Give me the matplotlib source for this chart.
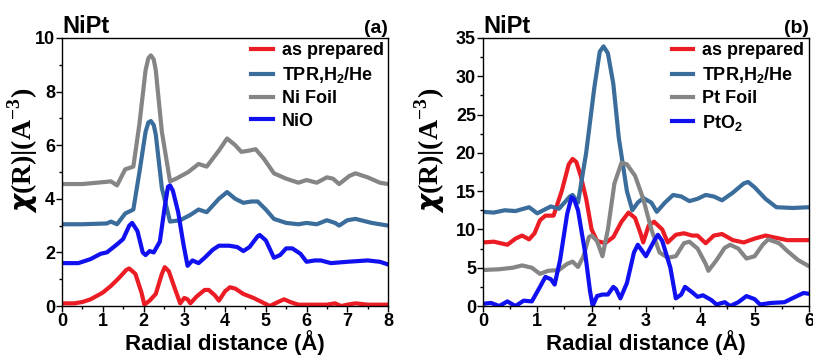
import matplotlib
matplotlib.use("Agg")
import matplotlib.pyplot as plt
from matplotlib.ticker import MultipleLocator

plt.rcParams['font.family'] = ['Liberation Sans', 'DejaVu Sans']
plt.rcParams['font.weight'] = 'bold'
plt.rcParams['mathtext.fontset'] = 'custom'
plt.rcParams['mathtext.rm'] = 'Liberation Serif'
plt.rcParams['mathtext.bf'] = 'Liberation Serif:bold'
plt.rcParams['mathtext.sf'] = 'Liberation Sans:bold'

# panel (a) Ni edge
a_prep_x = [0, 0.3, 0.5, 0.7, 1.0, 1.2, 1.4, 1.58, 1.65, 1.8, 1.95, 2.02, 2.15, 2.3, 2.45, 2.52, 2.62, 2.78, 2.9,
            3.0, 3.08, 3.15, 3.3, 3.5, 3.6, 3.75, 3.85, 4.0, 4.12, 4.25, 4.45, 4.7, 4.9, 5.1, 5.3, 5.45, 5.6,
            5.8, 6.0, 6.5, 6.7, 6.85, 7.0, 7.2, 7.5, 8.0]
a_prep_y = [0.1, 0.1, 0.15, 0.25, 0.5, 0.75, 1.05, 1.35, 1.4, 1.2, 0.5, 0.05, 0.2, 0.45, 1.2, 1.45, 1.3, 0.6, 0.1,
            0.3, 0.25, 0.1, 0.35, 0.6, 0.6, 0.4, 0.2, 0.55, 0.7, 0.65, 0.45, 0.3, 0.15, 0.0, 0.15, 0.25, 0.15,
            0.05, 0.05, 0.05, 0.1, 0.0, 0.05, 0.1, 0.05, 0.05]

a_tpr_x = [0, 0.5, 1.1, 1.2, 1.35, 1.55, 1.75, 1.9, 2.05, 2.12, 2.18, 2.25, 2.3, 2.45, 2.65, 2.9, 3.15, 3.35, 3.55, 3.85,
           4.05, 4.25, 4.45, 4.65, 4.8, 5.0, 5.2, 5.5, 5.8, 6.0, 6.25, 6.5, 6.7, 6.8, 7.0, 7.2, 7.6, 8.0]
a_tpr_y = [3.05, 3.05, 3.08, 3.15, 3.05, 3.45, 3.6, 5.0, 6.5, 6.85, 6.9, 6.75, 6.4, 4.4, 3.15, 3.2, 3.4, 3.6, 3.5, 4.0,
           4.25, 4.0, 3.85, 3.9, 3.9, 3.6, 3.25, 3.1, 3.05, 3.1, 3.05, 3.2, 3.1, 3.0, 3.2, 3.25, 3.1, 3.0]

a_foil_x = [0, 0.5, 1.0, 1.2, 1.35, 1.55, 1.75, 1.9, 2.05, 2.12, 2.18, 2.25, 2.3, 2.45, 2.65, 2.8, 3.1, 3.35, 3.55, 3.85,
            4.05, 4.25, 4.4, 4.6, 4.75, 4.95, 5.2, 5.5, 5.8, 6.0, 6.25, 6.5, 6.65, 6.8, 7.05, 7.2, 7.5, 7.8, 8.0]
a_foil_y = [4.55, 4.55, 4.62, 4.65, 4.5, 5.1, 5.2, 6.8, 8.8, 9.25, 9.35, 9.2, 8.8, 6.5, 4.65, 4.75, 5.0, 5.3, 5.2, 5.8,
            6.25, 6.0, 5.75, 5.8, 5.85, 5.5, 4.95, 4.75, 4.6, 4.7, 4.6, 4.8, 4.75, 4.55, 4.85, 4.95, 4.8, 4.6, 4.55]

a_nio_x = [0, 0.4, 0.5, 0.7, 0.95, 1.1, 1.35, 1.5, 1.65, 1.72, 1.85, 1.98, 2.05, 2.15, 2.25, 2.4, 2.52, 2.6, 2.65,
           2.72, 2.85, 2.98, 3.08, 3.2, 3.35, 3.5, 3.7, 3.85, 4.1, 4.3, 4.45, 4.6, 4.8, 4.85, 5.0, 5.2, 5.35,
           5.5, 5.65, 5.85, 6.0, 6.2, 6.35, 6.6, 7.0, 7.5, 7.8, 8.0]
a_nio_y = [1.6, 1.6, 1.65, 1.75, 1.95, 2.0, 2.3, 2.5, 3.0, 3.1, 2.8, 2.0, 1.9, 2.05, 2.0, 2.4, 3.7, 4.45, 4.5,
           4.3, 3.5, 2.3, 1.5, 1.7, 1.6, 1.8, 2.1, 2.25, 2.25, 2.2, 2.05, 2.2, 2.6, 2.65, 2.45, 1.8, 1.9,
           2.15, 2.15, 1.95, 1.65, 1.7, 1.7, 1.6, 1.65, 1.7, 1.65, 1.55]

# panel (b) Pt edge
b_prep_x = [0, 0.2, 0.45, 0.6, 0.72, 0.85, 0.95, 1.05, 1.15, 1.3, 1.45, 1.58, 1.65, 1.72, 1.8, 1.9, 2.0, 2.1, 2.25,
            2.4, 2.55, 2.68, 2.8, 2.9, 2.95, 3.05, 3.15, 3.3, 3.4, 3.55, 3.7, 3.85, 3.95, 4.1, 4.25, 4.4, 4.6,
            4.8, 5.0, 5.2, 5.4, 5.6, 6.0]
b_prep_y = [8.3, 8.4, 8.0, 8.8, 9.2, 8.7, 9.5, 11.2, 11.8, 11.8, 15.0, 18.5, 19.2, 18.8, 17.0, 14.0, 10.0, 8.5, 8.2,
            9.0, 11.0, 12.2, 11.5, 9.5, 8.3, 10.5, 11.0, 10.0, 8.3, 9.3, 9.5, 9.2, 9.2, 8.2, 9.2, 9.4, 8.6,
            8.3, 8.8, 9.2, 8.9, 8.6, 8.6]

b_tpr_x = [0, 0.2, 0.4, 0.6, 0.85, 1.0, 1.25, 1.4, 1.6, 1.65, 1.75, 1.9, 2.05, 2.15, 2.22, 2.3, 2.4, 2.5, 2.65, 2.75,
           2.85, 2.95, 3.1, 3.2, 3.35, 3.5, 3.65, 3.8, 3.95, 4.1, 4.25, 4.4, 4.6, 4.8, 4.88, 5.0, 5.2, 5.4,
           5.7, 6.0]
b_tpr_y = [12.3, 12.2, 12.5, 12.4, 12.9, 12.1, 13.0, 12.7, 14.3, 14.5, 13.5, 20.0, 28.5, 33.2, 33.9, 33.0, 29.0, 22.0, 15.0, 12.5,
           13.5, 14.1, 13.5, 12.3, 13.5, 14.5, 14.3, 13.7, 14.0, 14.5, 14.3, 13.8, 14.8, 16.0, 16.2, 15.5, 14.0, 12.9,
           12.8, 12.9]

b_foil_x = [0, 0.3, 0.55, 0.72, 0.9, 1.05, 1.2, 1.4, 1.55, 1.65, 1.75, 1.85, 1.95, 2.0, 2.1, 2.2, 2.3, 2.42,
            2.55, 2.65, 2.8, 2.95, 3.1, 3.25, 3.4, 3.55, 3.7, 3.8, 3.95, 4.1, 4.15, 4.3, 4.45, 4.55, 4.7, 4.85,
            5.0, 5.15, 5.25, 5.45, 5.6, 5.8, 6.0]
b_foil_y = [4.7, 4.8, 5.0, 5.3, 5.0, 4.2, 4.6, 4.7, 5.5, 5.8, 5.1, 6.5, 9.0, 9.2, 8.5, 6.5, 10.0, 16.0,
            18.7, 18.5, 17.0, 14.0, 10.0, 7.0, 6.3, 6.5, 8.2, 8.4, 7.5, 5.5, 4.6, 6.0, 7.6, 8.0, 7.5, 6.2,
            6.5, 8.0, 8.7, 8.2, 7.2, 6.0, 5.2]

b_oxide_x = [0, 0.15, 0.3, 0.45, 0.6, 0.75, 0.9, 1.05, 1.15, 1.25, 1.32, 1.42, 1.55, 1.63, 1.68, 1.75, 1.88, 1.97,
             2.02, 2.1, 2.2, 2.3, 2.4, 2.45, 2.53, 2.65, 2.78, 2.85, 2.95, 3.0, 3.15, 3.22, 3.3, 3.45, 3.55,
             3.65, 3.72, 3.85, 3.95, 4.05, 4.2, 4.3, 4.45, 4.55, 4.7, 4.85, 5.0, 5.1, 5.3, 5.55, 5.75, 5.9, 6.0]
b_oxide_y = [0.3, 0.4, 0.0, 0.6, 0.0, 0.7, 0.6, 2.5, 3.8, 3.5, 2.8, 6.0, 12.0, 14.2, 13.9, 12.5, 7.0, 2.0,
             0.0, 1.3, 1.5, 1.5, 2.5, 2.2, 1.0, 3.0, 7.0, 8.0, 7.0, 6.5, 8.5, 9.3, 8.5, 5.0, 1.0,
             1.5, 2.5, 1.8, 1.2, 1.4, 0.8, 0.2, 0.5, 0.0, 0.5, 1.3, 0.9, 0.2, 0.4, 0.5, 1.2, 1.7, 1.6]

c_red = '#ec1c24'
c_steel = '#3a6d9c'
c_gray = '#858585'
c_blue = '#1010f0'

fig = plt.figure(figsize=(8.13, 3.56), dpi=100)
ax1 = fig.add_axes([0.0763, 0.1404, 0.401, 0.753])
ax2 = fig.add_axes([0.594, 0.1404, 0.401, 0.753])

ax1.plot(a_prep_x, a_prep_y, color=c_red, lw=3, label='as prepared')
ax1.plot(a_tpr_x, a_tpr_y, color=c_steel, lw=3, label=r'TPR,H$_\mathsf{2}$/He')
ax1.plot(a_foil_x, a_foil_y, color=c_gray, lw=3, label='Ni Foil')
ax1.plot(a_nio_x, a_nio_y, color=c_blue, lw=3, label='NiO')

ax2.plot(b_prep_x, b_prep_y, color=c_red, lw=3, label='as prepared')
ax2.plot(b_tpr_x, b_tpr_y, color=c_steel, lw=3, label=r'TPR,H$_\mathsf{2}$/He')
ax2.plot(b_foil_x, b_foil_y, color=c_gray, lw=3, label='Pt Foil')
ax2.plot(b_oxide_x, b_oxide_y, color=c_blue, lw=3, label=r'PtO$_\mathsf{2}$')

ax1.set_xlim(0, 8)
ax1.set_ylim(0, 10)
ax1.yaxis.set_major_locator(MultipleLocator(2))
ax1.yaxis.set_minor_locator(MultipleLocator(1))
ax2.set_xlim(0, 6)
ax2.set_ylim(0, 35)
ax2.yaxis.set_major_locator(MultipleLocator(5))
ax2.yaxis.set_minor_locator(MultipleLocator(2.5))

for ax, tag, lx in [(ax1, '(a)', -0.068), (ax2, '(b)', -0.11)]:
    ax.xaxis.set_major_locator(MultipleLocator(1))
    ax.xaxis.set_minor_locator(MultipleLocator(0.5))
    ax.tick_params(which='major', direction='out', length=4, width=1, labelsize=13, pad=1)
    ax.tick_params(which='minor', direction='out', length=2, width=1)
    for s in ax.spines.values():
        s.set_linewidth(1)
    ax.set_xlabel('Radial distance (Å)', fontsize=16, fontweight='bold', labelpad=0)
    ax.set_ylabel(r'$\chi(\mathbf{R})|(\mathbf{A}^{\mathbf{-3}})$', fontsize=20, fontweight='normal')
    ax.yaxis.set_label_coords(lx, 0.58)
    ax.set_title('NiPt', loc='left', fontsize=17, fontweight='bold', pad=2)
    ax.set_title(tag, loc='right', fontsize=14, fontweight='bold', pad=3)
    ax.legend(loc='upper right', frameon=False, fontsize=13, handlelength=1.2, handletextpad=0.5,
              labelspacing=0.3, borderaxespad=0.1, borderpad=0.15)

fig.savefig('out.png', dpi=100)
